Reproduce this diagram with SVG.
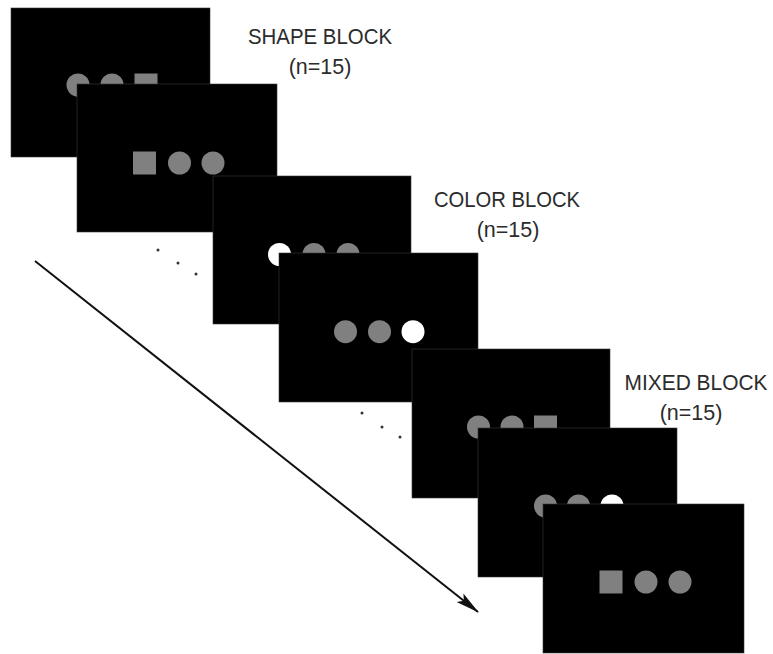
<svg xmlns="http://www.w3.org/2000/svg" width="773" height="654" viewBox="0 0 773 654">
  <style>
    .screen { fill: #000; stroke: #3a3a3a; stroke-width: 0.6; }
    .grey { fill: #808080; }
    .white { fill: #fff; }
    .label { font-family: "Liberation Sans", Arial, sans-serif; font-size: 21.5px; fill: #2b2b2b; text-anchor: middle; }
    .dot { fill: #333; }
    .timeline { stroke: #111; stroke-width: 2; fill: none; }
  </style>
  <defs>
    <marker id="arrowhead" viewBox="0 0 24 12" refX="23" refY="6" markerWidth="24" markerHeight="12" markerUnits="userSpaceOnUse" orient="auto">
      <path d="M0,0.5 L24,6 L0,11.5 L5,6 Z" fill="#111"/>
    </marker>
  </defs>
  <rect width="773" height="654" fill="#fff"/>

  <!-- block labels -->
  <g id="labels">
    <text class="label" x="320" y="44" textLength="144" lengthAdjust="spacingAndGlyphs">SHAPE BLOCK</text>
    <text class="label" x="320" y="74">(n=15)</text>
    <text class="label" x="507" y="207" textLength="146" lengthAdjust="spacingAndGlyphs">COLOR BLOCK</text>
    <text class="label" x="508" y="237">(n=15)</text>
    <text class="label" x="696" y="390" textLength="143" lengthAdjust="spacingAndGlyphs">MIXED BLOCK</text>
    <text class="label" x="691" y="420">(n=15)</text>
  </g>

  <!-- ellipsis dots between blocks -->
  <g id="ellipsis">
    <circle class="dot" cx="158" cy="250" r="1.5"/>
    <circle class="dot" cx="178" cy="263" r="1.5"/>
    <circle class="dot" cx="196" cy="274" r="1.5"/>
    <circle class="dot" cx="362" cy="413" r="1.5"/>
    <circle class="dot" cx="382" cy="427" r="1.5"/>
    <circle class="dot" cx="400" cy="437" r="1.5"/>
  </g>

  <!-- time axis -->
  <g id="connectors">
    <line class="timeline" x1="35" y1="261" x2="478" y2="612" marker-end="url(#arrowhead)"/>
  </g>

  <!-- stimulus screens, each overlapping the previous one -->
  <g id="screen-1" transform="translate(11,8)">
    <rect class="screen" width="199" height="149"/>
    <circle class="grey" cx="67" cy="77" r="11.5"/>
    <circle class="grey" cx="101" cy="77" r="11.5"/>
    <rect class="grey" x="123.5" y="65.5" width="23" height="23"/>
  </g>
  <g id="screen-2" transform="translate(77,84)">
    <rect class="screen" width="200" height="148"/>
    <rect class="grey" x="56" y="67.5" width="23" height="23"/>
    <circle class="grey" cx="102.5" cy="79" r="11.5"/>
    <circle class="grey" cx="136" cy="79" r="11.5"/>
  </g>
  <g id="screen-3" transform="translate(213,176)">
    <rect class="screen" width="198" height="148"/>
    <circle class="white" cx="66.5" cy="78.5" r="11.5"/>
    <circle class="grey" cx="101" cy="78.5" r="11.5"/>
    <circle class="grey" cx="135" cy="78.5" r="11.5"/>
  </g>
  <g id="screen-4" transform="translate(279,253)">
    <rect class="screen" width="199" height="149"/>
    <circle class="grey" cx="66.5" cy="78.7" r="11.5"/>
    <circle class="grey" cx="100.5" cy="78.7" r="11.5"/>
    <circle class="white" cx="134" cy="78.7" r="11.5"/>
  </g>
  <g id="screen-5" transform="translate(412,349)">
    <rect class="screen" width="198" height="149"/>
    <circle class="grey" cx="66.5" cy="78" r="11.5"/>
    <circle class="grey" cx="100" cy="78" r="11.5"/>
    <rect class="grey" x="122" y="66.5" width="23" height="23"/>
  </g>
  <g id="screen-6" transform="translate(478,428)">
    <rect class="screen" width="199" height="149"/>
    <circle class="grey" cx="67.5" cy="78" r="11.5"/>
    <circle class="grey" cx="100.5" cy="78" r="11.5"/>
    <circle class="white" cx="134" cy="78" r="11.5"/>
  </g>
  <g id="screen-7" transform="translate(543,504)">
    <rect class="screen" width="201" height="149"/>
    <rect class="grey" x="56.5" y="66.5" width="23" height="23"/>
    <circle class="grey" cx="103" cy="78" r="11.5"/>
    <circle class="grey" cx="137" cy="78" r="11.5"/>
  </g>
</svg>
